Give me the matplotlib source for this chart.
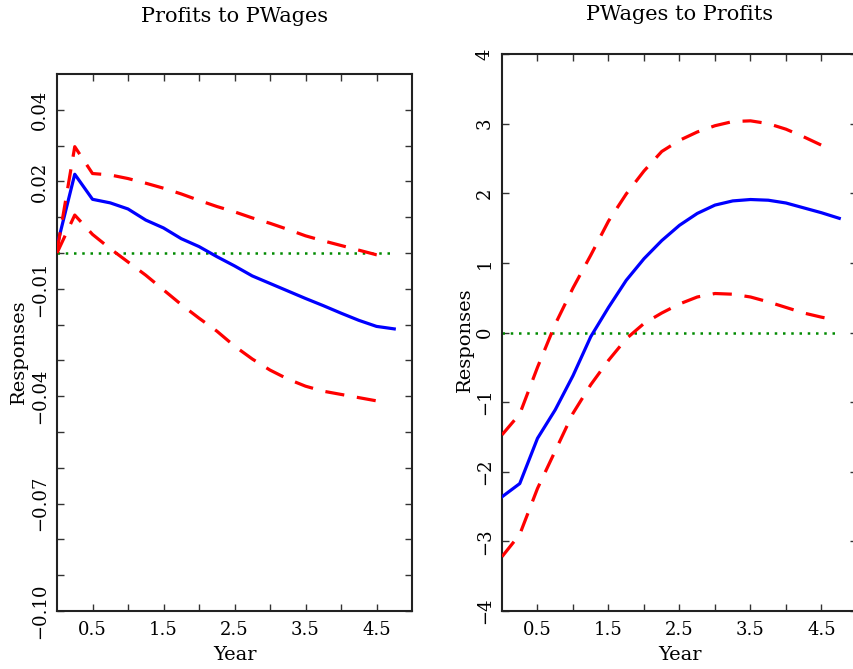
import numpy as np
import matplotlib
matplotlib.use("Agg")
import matplotlib.pyplot as plt

plt.rcParams['font.family'] = ['DejaVu Serif']

# quarterly horizon
year = [0, 0.25, 0.5, 0.75, 1.0, 1.25, 1.5, 1.75, 2.0, 2.25,
        2.5, 2.75, 3.0, 3.25, 3.5, 3.75, 4.0, 4.25, 4.5, 4.75]
band_year = [0, 0.25, 0.5, 0.75, 1.0, 1.25, 1.5, 1.75, 2.0, 2.25,
             2.5, 2.75, 3.0, 3.25, 3.5, 3.75, 4.0, 4.25, 4.5, 4.6]

# Profits to PWages
pw_resp = [0.002, 0.022, 0.015, 0.014, 0.0123, 0.0092, 0.0070, 0.0040, 0.0018, -0.0010,
           -0.0036, -0.0064, -0.0085, -0.0106, -0.0127, -0.0147, -0.0168, -0.0188, -0.0205, -0.0212]
pw_upper = [0.0005, 0.0297, 0.0222, 0.0218, 0.0208, 0.0195, 0.0181, 0.0165, 0.0147, 0.0130,
            0.0115, 0.0098, 0.0083, 0.0066, 0.0048, 0.0034, 0.0021, 0.0008, -0.0005, -0.0008]
pw_lower = [0.0, 0.0106, 0.0052, 0.0012, -0.0025, -0.0062, -0.0103, -0.0144, -0.0182, -0.0218,
            -0.0260, -0.0296, -0.0327, -0.0352, -0.0372, -0.0386, -0.0395, -0.0404, -0.0413, -0.0420]

# PWages to Profits
wp_resp = [-2.36, -2.17, -1.52, -1.11, -0.62, -0.06, 0.36, 0.75, 1.06, 1.32,
           1.54, 1.71, 1.83, 1.89, 1.91, 1.90, 1.86, 1.79, 1.72, 1.64]
wp_upper = [-1.47, -1.17, -0.50, 0.12, 0.64, 1.11, 1.60, 1.99, 2.32, 2.60,
            2.76, 2.88, 2.97, 3.03, 3.04, 3.00, 2.92, 2.81, 2.69, 2.65]
wp_lower = [-3.22, -2.90, -2.24, -1.70, -1.16, -0.75, -0.40, -0.09, 0.13, 0.28,
            0.41, 0.51, 0.56, 0.55, 0.51, 0.44, 0.36, 0.28, 0.22, 0.20]

x_ticks = [0.5, 1.0, 1.5, 2.0, 2.5, 3.0, 3.5, 4.0, 4.5]
x_labels = ['0.5', '', '1.5', '', '2.5', '', '3.5', '', '4.5']

left_yticks = [-0.10, -0.09, -0.08, -0.07, -0.06, -0.05, -0.04, -0.03, -0.02, -0.01,
               0.0, 0.01, 0.02, 0.03, 0.04]
left_ylabels = ['\u22120.10', '', '', '\u22120.07', '', '', '\u22120.04', '', '', '\u22120.01',
                '', '', '0.02', '', '0.04']
right_yticks = [-4, -3, -2, -1, 0, 1, 2, 3, 4]
right_ylabels = ['\u22124', '\u22123', '\u22122', '\u22121', '0', '1', '2', '3', '4']

W, H = 854, 669
fig = plt.figure(figsize=(W / 100, H / 100), dpi=100)
ax1 = fig.add_axes([57 / W, 1 - 611 / H, 355 / W, 537 / H])
ax2 = fig.add_axes([502 / W, 1 - 611 / H, 355 / W, 557 / H])


def draw(ax, resp, upper, lower, ylim, yticks, ylabels):
    ax.plot(year, resp, color='#0000ff', lw=2.3, zorder=3)
    ax.plot(band_year, upper, color='#ff0000', lw=2.3, dashes=(6, 4), zorder=3)
    ax.plot(band_year, lower, color='#ff0000', lw=2.3, dashes=(6, 4), zorder=3)
    ax.plot([year[0], year[-1]], [0, 0], color='#008a00', lw=1.8, dashes=(1, 2.3), zorder=2)
    ax.set_xlim(0, 5)
    ax.set_ylim(*ylim)
    ax.set_xticks(x_ticks)
    ax.set_xticklabels(x_labels, fontsize=13)
    ax.set_yticks(yticks)
    ax.set_yticklabels(ylabels, fontsize=13, rotation=90, va='center')
    ax.tick_params(direction='in', length=5, width=1, top=True, right=True, color='#333333')
    ax.tick_params(axis='y', pad=6)
    ax.tick_params(axis='x', pad=7)
    for s in ax.spines.values():
        s.set_linewidth(1.5)
        s.set_color('#222222')
    ax.set_xlabel('Year', fontsize=14, labelpad=5)
    ax.set_ylabel('Responses', fontsize=14)


draw(ax1, pw_resp, pw_upper, pw_lower, (-0.10, 0.05), left_yticks, left_ylabels)
draw(ax2, wp_resp, wp_upper, wp_lower, (-4, 4), right_yticks, right_ylabels)
ax1.yaxis.set_label_coords(-0.082, 0.482)
ax2.yaxis.set_label_coords(-0.079, 0.487)

fig.text((57 + 412) / 2 / W, 1 - 17 / H, 'Profits to PWages', ha='center', va='center', fontsize=15)
fig.text((502 + 857) / 2 / W, 1 - 15 / H, 'PWages to Profits', ha='center', va='center', fontsize=15)

fig.savefig('out.png', dpi=100)
